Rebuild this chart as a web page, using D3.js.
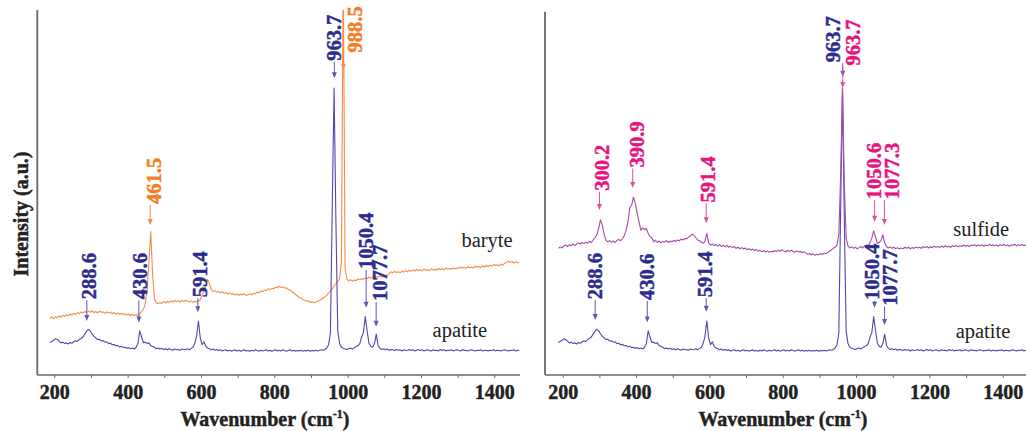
<!DOCTYPE html>
<html><head><meta charset="utf-8">
<script src="https://cdn.jsdelivr.net/npm/d3@7"></script>
<style>
body{margin:0;background:#fff;}
svg{display:block;}
</style></head><body>
<svg id="chart" width="1026" height="431"></svg>
<script>
const wavenumbers = d3.range(188, 1469, 5);

// Apatite spectrum (a.u.), one value per wavenumber
const apatite = [
 8.9, 9.2, 9.5, 9.9, 9.7, 9.3, 8.8, 9.0, 8.6, 8.8,
 8.5, 8.9, 8.7, 9.1, 9.4, 9.2, 9.7, 10.0, 10.4, 11.2,
 12.0, 12.5, 12.1, 11.3, 10.6, 10.2, 9.7, 9.8, 9.3, 9.4,
 9.0, 9.1, 8.6, 8.7, 8.3, 8.4, 8.0, 8.1, 7.7, 7.9,
 7.5, 7.6, 7.3, 7.5, 7.2, 7.4, 7.1, 7.6, 8.6, 12.1,
 10.4, 8.9, 9.0, 8.6, 8.8, 8.0, 7.8, 7.6, 7.2, 7.4,
 7.1, 7.3, 7.0, 7.2, 6.9, 7.2, 7.0, 6.8, 7.1, 6.9,
 7.0, 6.8, 7.1, 6.9, 7.0, 7.2, 6.9, 7.3, 7.6, 8.6,
 10.6, 14.8, 10.2, 8.3, 9.1, 7.9, 7.4, 7.2, 6.9, 7.1,
 6.8, 7.0, 6.7, 6.9, 6.6, 6.8, 6.9, 6.6, 6.8, 6.5,
 6.7, 6.9, 6.6, 6.8, 6.5, 6.7, 6.9, 6.6, 6.7, 6.5,
 6.8, 6.6, 6.9, 6.7, 6.5, 6.8, 6.6, 6.7, 6.9, 6.6,
 6.8, 6.5, 6.7, 6.9, 6.6, 6.8, 6.6, 6.9, 6.7, 6.5,
 6.7, 6.9, 6.6, 6.8, 6.5, 6.7, 6.6, 6.8, 6.5, 6.7,
 6.6, 6.8, 6.5, 6.7, 6.6, 6.8, 6.6, 6.7, 6.9, 6.8,
 7.0, 7.4, 8.3, 11.5, 46.0, 78.6, 42.0, 12.0, 8.6, 7.6,
 7.3, 7.1, 7.0, 7.2, 7.4, 7.1, 7.5, 7.8, 8.0, 8.6,
 10.4, 11.6, 16.0, 12.2, 8.7, 7.9, 7.6, 8.6, 11.2, 8.1,
 7.3, 7.0, 7.2, 6.9, 7.1, 6.8, 7.0, 6.9, 6.7, 7.0,
 6.8, 6.9, 6.6, 6.9, 6.7, 6.8, 7.0, 6.7, 6.9, 6.6,
 6.8, 7.0, 6.7, 6.9, 6.6, 6.8, 6.9, 6.7, 6.6, 6.9,
 6.7, 6.8, 6.6, 7.0, 6.7, 6.9, 6.6, 6.8, 6.7, 6.9,
 6.6, 6.8, 6.9, 6.7, 6.6, 6.9, 6.7, 6.8, 6.6, 6.8,
 6.9, 6.7, 6.6, 6.8, 6.7, 6.9, 6.6, 6.8, 6.7, 6.6,
 6.8, 6.7, 6.9, 6.6, 6.8, 6.7, 6.6, 6.8, 6.9, 6.7,
 6.6, 6.8, 6.7, 6.9, 6.6, 6.8, 6.7
];

// Baryte spectrum (a.u.)
const baryte = [
 15.5, 15.9, 15.4, 16.0, 15.7, 16.2, 15.8, 16.4, 16.0, 16.5,
 16.2, 16.7, 16.4, 16.9, 16.6, 17.1, 16.8, 17.3, 17.0, 17.4,
 17.1, 17.5, 17.2, 17.6, 17.1, 17.4, 17.0, 17.5, 17.2, 17.3,
 16.9, 17.3, 17.0, 17.2, 16.8, 17.1, 16.7, 17.0, 16.6, 16.9,
 16.5, 16.8, 16.4, 16.7, 16.3, 16.6, 16.2, 16.5, 16.3, 16.8,
 17.4, 18.0, 19.5, 23.5, 31.0, 39.3, 27.5, 21.0, 19.8, 19.5,
 19.9, 19.6, 20.1, 19.8, 20.2, 19.9, 20.3, 20.0, 20.4, 20.1,
 20.3, 20.0, 20.4, 20.1, 20.5, 20.2, 20.0, 20.3, 19.9, 20.2,
 20.0, 20.3, 20.6, 21.8, 23.0, 24.5, 26.2, 25.0, 23.4, 22.9,
 23.1, 22.7, 22.9, 22.5, 22.8, 22.4, 22.6, 22.2, 22.5, 22.1,
 22.3, 21.9, 22.2, 21.8, 22.1, 21.9, 22.2, 21.8, 22.0, 22.3,
 22.0, 22.4, 22.2, 22.7, 22.5, 23.0, 22.8, 23.3, 23.1, 23.6,
 23.4, 23.8, 23.6, 24.1, 23.9, 24.3, 24.0, 24.2, 23.8, 23.9,
 23.4, 23.3, 22.7, 22.6, 22.0, 21.7, 21.2, 21.1, 20.6, 20.5,
 20.2, 20.3, 19.9, 20.1, 19.8, 20.0, 20.2, 20.4, 20.7, 21.1,
 21.4, 21.9, 22.5, 22.9, 23.6, 24.4, 25.0, 25.6, 26.4, 31.0,
 112.0, 29.0, 26.3, 25.8, 26.1, 25.7, 26.0, 25.9, 26.3, 26.1,
 26.4, 26.2, 26.6, 26.4, 26.8, 26.5, 26.9, 26.6, 27.0, 26.8,
 27.1, 26.8, 27.0, 26.9, 27.3, 27.8, 28.3, 28.0, 28.4, 28.1,
 28.3, 28.0, 28.4, 28.2, 28.6, 28.3, 28.7, 28.4, 28.8, 28.5,
 28.9, 28.6, 28.8, 28.5, 29.0, 28.7, 28.9, 28.6, 29.1, 28.8,
 29.0, 28.7, 29.2, 28.9, 29.1, 28.8, 29.3, 29.0, 29.2, 28.9,
 29.3, 29.1, 29.4, 29.2, 29.6, 29.3, 29.5, 29.2, 29.7, 29.4,
 29.6, 29.3, 29.8, 29.5, 29.7, 29.4, 29.9, 29.6, 30.0, 29.7,
 30.1, 29.8, 30.3, 30.0, 30.2, 29.9, 30.4, 30.1, 30.6, 30.8,
 31.2, 30.9, 31.1, 30.7, 31.0, 30.8, 30.9
];

// Sulfide spectrum (a.u.)
const sulfide = [
 34.7, 35.1, 34.8, 35.4, 35.6, 35.2, 35.7, 35.4, 35.9, 35.5,
 35.8, 36.2, 35.9, 36.3, 36.0, 36.4, 36.1, 36.6, 36.3, 37.0,
 37.6, 38.4, 40.2, 42.5, 41.0, 38.6, 36.9, 36.5, 36.8, 36.4,
 36.7, 36.3, 36.9, 37.1, 36.8, 37.4, 38.2, 39.7, 42.0, 45.8,
 46.5, 48.7, 47.0, 44.3, 42.0, 39.7, 40.3, 39.8, 40.2, 38.8,
 37.9, 37.6, 36.5, 36.9, 36.3, 36.7, 36.2, 36.6, 36.4, 36.8,
 36.3, 36.7, 36.5, 36.9, 36.6, 37.0, 36.8, 37.2, 37.0, 37.4,
 37.3, 37.8, 38.1, 38.6, 38.3, 37.6, 37.0, 36.8, 36.3, 36.1,
 36.6, 38.8, 36.2, 35.6, 35.9, 35.4, 35.8, 35.3, 35.7, 35.2,
 35.6, 35.1, 35.5, 35.0, 35.3, 34.9, 35.2, 34.7, 35.0, 34.6,
 34.9, 34.5, 34.8, 34.3, 34.6, 34.2, 34.5, 34.1, 34.4, 33.9,
 34.2, 33.8, 34.1, 33.7, 34.0, 33.6, 33.9, 33.7, 34.1, 33.8,
 34.2, 33.9, 34.3, 34.0, 33.7, 34.1, 33.8, 34.2, 33.9, 33.6,
 34.0, 33.7, 33.9, 33.5, 33.8, 33.4, 33.1, 33.3, 32.9, 33.2,
 32.8, 33.1, 32.9, 33.3, 33.0, 33.4, 33.2, 33.6, 33.9, 34.3,
 34.7, 35.0, 35.6, 38.5, 55.0, 78.6, 52.0, 37.5, 35.4, 34.8,
 35.1, 34.7, 35.0, 34.6, 34.9, 35.2, 34.8, 35.3, 35.6, 35.4,
 36.2, 37.5, 39.5, 37.8, 36.1, 36.3, 36.8, 38.4, 36.2, 35.2,
 34.8, 35.1, 34.7, 35.0, 34.6, 34.9, 34.5, 34.8, 34.6, 35.0,
 34.7, 35.0, 34.6, 34.9, 34.7, 35.1, 34.8, 35.0, 34.7, 35.2,
 34.9, 35.2, 34.8, 35.1, 34.9, 35.3, 35.0, 35.2, 34.9, 35.3,
 35.0, 35.4, 35.1, 35.3, 35.0, 35.4, 35.2, 35.5, 35.1, 35.4,
 35.2, 35.6, 35.3, 35.5, 35.2, 35.6, 35.4, 35.7, 35.3, 35.6,
 35.4, 35.7, 35.3, 35.6, 35.4, 35.8, 35.5, 35.7, 35.4, 35.6,
 35.3, 35.7, 35.5, 35.8, 35.4, 35.6, 35.3, 35.7, 35.5, 35.8,
 35.4, 35.7, 35.5, 35.8, 35.4, 35.6, 35.5
];

const xTickValues = [200, 400, 600, 800, 1000, 1200, 1400];
const xMinorTickValues = [300, 500, 700, 900, 1100, 1300];

// Peak annotations: [peak wavenumber, label, label bottom (a.u.), arrow tip (a.u.), label wavenumber, kind]
const leftPeaks = [
 [288.6, "288.6", 20.5, 14.8, 296, "apatite"],
 [430.6, "430.6", 20.5, 14.4, 434, "apatite"],
 [591.4, "591.4", 21.0, 17.2, 597, "apatite"],
 [963.7, "963.7", 85.8, 81.3, 962, "apatite"],
 [1050.4, "1050.4", 28.8, 18.4, 1050, "apatite"],
 [1077.7, "1077.7", 20.0, 13.2, 1088, "apatite"],
 [461.5, "461.5", 46.6, 41.1, 473, "baryte"],
 [988.5, "988.5", 88.1, 83.6, 1020, "baryte"]
];
const rightPeaks = [
 [288.6, "288.6", 20.5, 15.1, 289, "apatite"],
 [430.6, "430.6", 20.3, 14.4, 431, "apatite"],
 [591.4, "591.4", 21.0, 17.3, 588, "apatite"],
 [963.7, "963.7", 85.4, 81.7, 938, "apatite"],
 [1050.4, "1050.4", 20.3, 18.4, 1043, "apatite"],
 [1077.7, "1077.7", 18.7, 13.7, 1093, "apatite"],
 [300.2, "300.2", 50.2, 45.2, 306, "sulfide"],
 [390.9, "390.9", 56.6, 51.2, 402, "sulfide"],
 [591.4, "591.4", 47.0, 41.6, 597, "sulfide"],
 [963.7, "963.7", 84.5, 78.6, 992, "sulfide"],
 [1050.6, "1050.6", 47.9, 42.0, 1048, "sulfide"],
 [1077.3, "1077.3", 47.9, 41.1, 1097, "sulfide"]
];

// Series name labels: [name, wavenumber, intensity]
const leftNames = [["baryte", 1380, 35.2], ["apatite", 1306, 10.4]];
const rightNames = [["sulfide", 1341, 38.2], ["apatite", 1346, 10.1]];

const lineColor = {apatite: "#5048ac", baryte: "#f78a4c", sulfide: "#a64ca6"};
const textColor = {apatite: "#2c2c8e", baryte: "#f47c24", sulfide: "#e8137f"};
const arrowColor = {apatite: "#5b58b6", baryte: "#f58a4a", sulfide: "#e34f98"};

const panels = [
  {id: "L", x0: 37.3, x1: 520, top: 10, domain: [153.6, 1470],
   series: [["baryte", baryte], ["apatite", apatite]], peaks: leftPeaks, names: leftNames, titleX: 265},
  {id: "R", x0: 545, x1: 1026, top: 11.7, domain: [151.7, 1463.4],
   series: [["apatite", apatite], ["sulfide", sulfide]], peaks: rightPeaks, names: rightNames, titleX: 783}
];

const svg = d3.select("#chart");
const axisY = 375;
const y = d3.scaleLinear().domain([0, 100]).range([axisY, 10]);
const serif = "'Liberation Serif', 'Times New Roman', serif";
const axisGray = "#6a6a6a";

function boldText(sel, color) {
  return sel.attr("font-family", serif).attr("font-weight", "bold")
    .attr("fill", color).attr("stroke", color).attr("stroke-width", 0.45)
    .attr("paint-order", "stroke");
}

panels.forEach(p => {
  const x = d3.scaleLinear().domain(p.domain).range([p.x0, p.x1]);
  const g = svg.append("g");

  g.append("clipPath").attr("id", "clip" + p.id)
    .append("rect").attr("x", p.x0).attr("y", p.top)
    .attr("width", p.x1 - p.x0).attr("height", axisY - p.top);

  const line = d3.line().x((d, i) => x(wavenumbers[i])).y(d => y(d));
  p.series.forEach(([name, vals]) => {
    g.append("path").datum(vals)
      .attr("clip-path", `url(#clip${p.id})`)
      .attr("fill", "none").attr("stroke", lineColor[name])
      .attr("stroke-width", 1.1).attr("stroke-linejoin", "round")
      .attr("d", line);
  });

  // axes
  const xAxis = d3.axisBottom(x).tickValues(xTickValues).tickSize(3).tickFormat(d3.format("d"));
  const ax = g.append("g").attr("transform", `translate(0,${axisY})`).call(xAxis);
  ax.select(".domain").remove();
  ax.selectAll(".tick line").attr("stroke", axisGray).attr("stroke-width", 1);
  boldText(ax.selectAll(".tick text"), "#222").attr("font-size", 20).attr("dy", null).attr("y", 24);
  const minor = d3.axisBottom(x).tickValues(xMinorTickValues).tickSize(3).tickFormat("");
  const mx = g.append("g").attr("transform", `translate(0,${axisY})`).call(minor);
  mx.select(".domain").remove();
  mx.selectAll(".tick line").attr("stroke", axisGray).attr("stroke-width", 1);

  g.append("line").attr("x1", p.x0).attr("x2", p.x1).attr("y1", axisY).attr("y2", axisY)
    .attr("stroke", axisGray).attr("stroke-width", 1.6);
  g.append("line").attr("x1", p.x0).attr("x2", p.x0).attr("y1", p.top).attr("y2", axisY)
    .attr("stroke", axisGray).attr("stroke-width", 1.8);

  // x title
  const t = boldText(g.append("text").attr("x", p.titleX).attr("y", 425.5).attr("text-anchor", "middle")
    .attr("font-size", 20), "#222");
  t.append("tspan").text("Wavenumber (cm");
  t.append("tspan").attr("font-size", 12).attr("dy", -8).text("-1");
  t.append("tspan").attr("dy", 8).text(")");

  // series names
  p.names.forEach(([name, wn, v]) => {
    g.append("text").attr("x", x(wn)).attr("y", y(v)).attr("text-anchor", "middle")
      .attr("font-family", serif).attr("font-size", 20.5).attr("fill", "#222").text(name);
  });

  // peak annotations
  p.peaks.forEach(([wn, label, base, tip, lwn, kind]) => {
    const ax0 = x(wn);
    const yb = y(base), yt = y(tip);
    g.append("line").attr("x1", ax0).attr("x2", ax0).attr("y1", yb).attr("y2", yt - 4)
      .attr("stroke", arrowColor[kind]).attr("stroke-width", 1);
    g.append("path")
      .attr("d", `M${ax0 - 2.5},${yt - 6} L${ax0 + 2.5},${yt - 6} L${ax0},${yt} Z`)
      .attr("fill", arrowColor[kind]);
    boldText(g.append("text"), textColor[kind])
      .attr("transform", `translate(${x(lwn)},${yb - 1}) rotate(-90)`)
      .attr("dy", "0.34em").attr("text-anchor", "start")
      .attr("font-size", 20.5).text(label);
  });
});

// y title
boldText(svg.append("text"), "#222").attr("transform", "translate(21,214) rotate(-90)")
  .attr("dy", "0.34em").attr("text-anchor", "middle").attr("font-size", 20)
  .text("Intensity (a.u.)");
</script>
</body></html>
